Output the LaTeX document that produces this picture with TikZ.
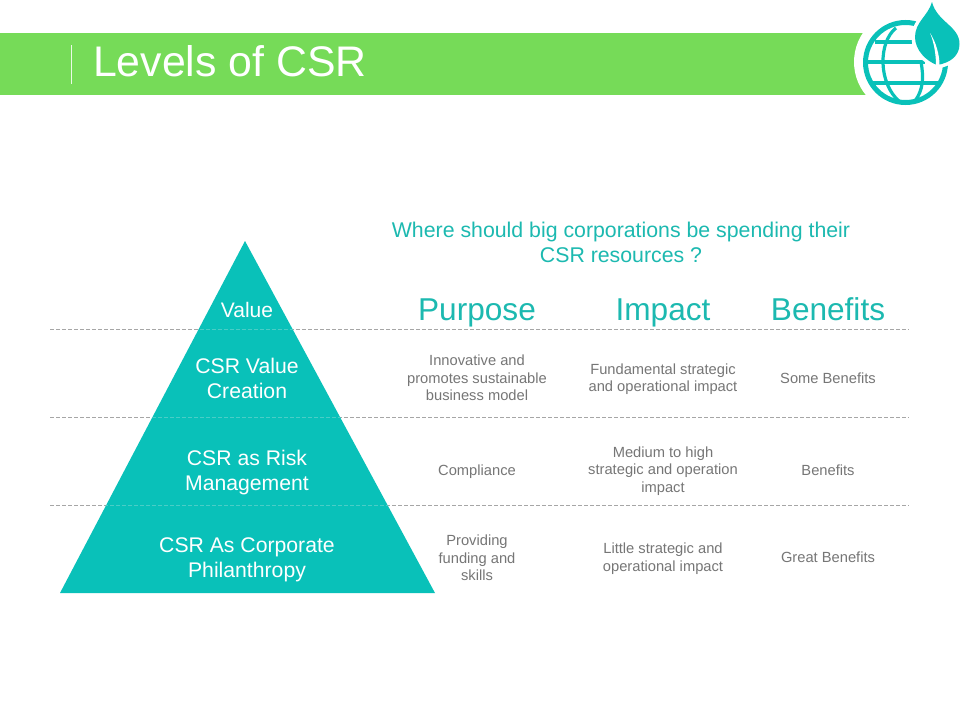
\documentclass[tikz,border=0pt]{standalone}
\usepackage{fontspec}
\setmainfont{Liberation Sans}
\definecolor{teal1}{HTML}{09C1B9}
\definecolor{tealtxt}{HTML}{1CB9B0}
\definecolor{bargreen}{HTML}{76DB58}
\definecolor{greytxt}{HTML}{767676}
\definecolor{dashgrey}{HTML}{A6A6A6}
\definecolor{dashlight}{HTML}{4ACDC6}
\tikzset{
  x=1pt,y=-1pt,
  body/.style={font=\fontsize{14.7}{17.6}\selectfont,text=greytxt,align=center,anchor=center,inner sep=0pt},
  head/.style={font=\fontsize{31.6}{34}\selectfont,text=tealtxt,anchor=base,inner sep=0pt},
  level/.style={font=\fontsize{21.2}{25}\selectfont,text=white,align=center,anchor=center,inner sep=0pt},
  rule/.style={draw=dashgrey,line width=0.8pt,dash pattern=on 3.5pt off 2.5pt},
}
\begin{document}
\begin{tikzpicture}
\useasboundingbox (0,0) rectangle (960,720);
\fill[white] (0,0) rectangle (960,720);
% title bar
\fill[bargreen] (0,33) rectangle (880,95);
\fill[white] (906,62) circle[radius=52];
\coordinate (tickA) at (71,45);
\coordinate (tickB) at (71,84);
\draw[white!85!bargreen,line width=0.8pt] (tickA) -- (tickB);
\node[font=\fontsize{42.8}{46}\selectfont,text=white,anchor=base west,inner sep=0pt] (title) at (93,76) {Levels of CSR};
% globe
\begin{scope}[teal1,line width=3.2pt]
\draw[line width=5pt] (905.5,62.5) circle[radius=40];
\draw (875,42) -- (912,42);
\draw (866,62) -- (925,62);
\draw (870,83) -- (938,83);
\draw (896,28) .. controls (878,42) and (878,84) .. (900,102);
\draw (921,62) .. controls (924,78) and (923,90) .. (915,101);
\end{scope}
% leaf
\path[fill=teal1,draw=white,line width=7pt]
  (932,2) .. controls (928,16) and (915,22) .. (915,37)
  .. controls (915,50) and (926,61) .. (937,65)
  .. controls (950,63) and (959.5,56) .. (959.5,44)
  .. controls (959.5,26) and (937,22) .. (932,2) -- cycle;
\fill[teal1]
  (932,2) .. controls (928,16) and (915,22) .. (915,37)
  .. controls (915,50) and (926,61) .. (937,65)
  .. controls (950,63) and (959.5,56) .. (959.5,44)
  .. controls (959.5,26) and (937,22) .. (932,2) -- cycle;
\fill[white] (930,33) .. controls (934,42) and (936,55) .. (936,65)
  -- (939.5,65) .. controls (939.5,55) and (936,42) .. (930,33) -- cycle;
% rules
\coordinate (r1a) at (50,329); \coordinate (r1b) at (909,329);
\coordinate (r2a) at (50,417); \coordinate (r2b) at (909,417);
\coordinate (r3a) at (50,505); \coordinate (r3b) at (909,505);
\draw[rule] (r1a) -- (r1b);
\draw[rule] (r2a) -- (r2b);
\draw[rule] (r3a) -- (r3b);
% pyramid
\coordinate (apex) at (245,241);
\coordinate (baseL) at (60,593);
\coordinate (baseR) at (435,593);
\fill[teal1] (apex) -- (baseR) -- (baseL) -- cycle;
% rules seen faintly through the pyramid
\begin{scope}
\clip (apex) -- (baseR) -- (baseL) -- cycle;
\draw[rule,draw=dashlight] (r1a) -- (r1b);
\draw[rule,draw=dashlight] (r2a) -- (r2b);
\draw[rule,draw=dashlight] (r3a) -- (r3b);
\end{scope}
% pyramid labels
\node[level,font=\fontsize{21}{24}\selectfont] (l0) at (247,310) {Value};
\node[level] (l1) at (247,378.5) {CSR Value\\Creation};
\node[level] (l2) at (247,473) {CSR as Risk\\Management};
\node[level] (l3) at (247,560) {CSR As Corporate\\Philanthropy};
% question
\node[font=\fontsize{21.3}{25}\selectfont,text=tealtxt,align=center,inner sep=0pt] (q) at (621,242) {Where should big corporations be spending their\\CSR resources ?};
% heads
\node[head] (h1) at (477,320) {Purpose};
\node[head] (h2) at (663,320) {Impact};
\node[head] (h3) at (828,320) {Benefits};
% table
\node[body] (a1) at (477,378) {Innovative and\\promotes sustainable\\business model};
\node[body] (a2) at (663,379) {Fundamental strategic\\and operational impact};
\node[body] (a3) at (828,378) {Some Benefits};
\node[body] (b1) at (477,472) {Compliance};
\node[body] (b2) at (663,471) {Medium to high\\strategic and operation\\impact};
\node[body] (b3) at (828,470) {Benefits};
\node[body] (c1) at (477,558) {Providing\\funding and\\skills};
\node[body] (c2) at (663,558.5) {Little strategic and\\operational impact};
\node[body] (c3) at (828,557) {Great Benefits};
\end{tikzpicture}
\end{document}
